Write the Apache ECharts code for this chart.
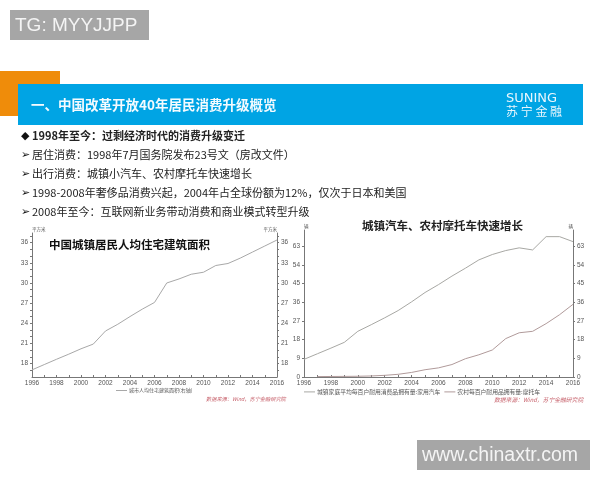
<!DOCTYPE html>
<html>
<head>
<meta charset="utf-8">
<script src="https://cdn.jsdelivr.net/npm/echarts@6/dist/echarts.min.js"></script>
<style>
html,body{margin:0;padding:0;background:#fff;}
#container{width:600px;height:480px;}
</style>
</head>
<body>
<div id="container"></div>
<script>
var years = ['1996','1997','1998','1999','2000','2001','2002','2003','2004','2005','2006','2007','2008','2009','2010','2011','2012','2013','2014','2015','2016'];

// left chart
var housingArea = [17.06,17.85,18.64,19.4,20.2,20.9,22.85,23.85,25,26.1,27.1,30,30.6,31.3,31.6,32.6,32.9,33.7,34.6,35.5,36.4];
var housingTicks = [18,21,24,27,30,33,36];
var housingTickMarks = [17,18,19,20,21,22,23,24,25,26,27,28,29,30,31,32,33,34,35,36,37];

// right chart
var urbanCars = [8.5,11.2,13.9,16.7,22,25.2,28.5,32,36.2,40.7,44.5,48.6,52.4,56.4,59,60.9,62.2,61.2,67.6,67.6,65.2];
var ruralMoto = [null,0.2,0.25,0.3,0.35,0.5,0.8,1.3,2.2,3.5,4.4,6,8.8,10.7,13,18.5,21.3,22,25.7,30,35];
var vehicleTicks = [0,9,18,27,36,45,54,63];

var housingName = '城市人均住宅建筑面积(右轴)';
var carName = '城镇家庭平均每百户耐用消费品拥有量:家用汽车';
var motoName = '农村每百户耐用品拥有量:摩托车';

var bullets = [
    '1998年至今：过剩经济时代的消费升级变迁',
    '居住消费：1998年7月国务院发布23号文（房改文件）',
    '出行消费：城镇小汽车、农村摩托车快速增长',
    '1998-2008年奢侈品消费兴起，2004年占全球份额为12%，仅次于日本和美国',
    '2008年至今：互联网新业务带动消费和商业模式转型升级'
];

var cjk = '"Noto Sans CJK SC", sans-serif';
var axisColor = '#777';

function xAxis(gridIndex){
    return {
        type: 'category',
        gridIndex: gridIndex,
        data: years,
        boundaryGap: false,
        axisLine: {lineStyle: {color: axisColor, width: 1}},
        axisTick: {show: true, length: 2, interval: 0, inside: true, lineStyle: {color: axisColor}},
        axisLabel: {interval: 1, fontSize: 6.5, color: '#555', margin: 3, fontFamily: 'Liberation Sans', showMaxLabel: true},
        splitLine: {show: false}
    };
}

function yAxis(gridIndex, position, min, max, ticks, marks, unit){
    return {
        type: 'value',
        gridIndex: gridIndex,
        position: position,
        min: min,
        max: max,
        name: unit,
        nameGap: 1,
        nameTextStyle: {fontSize: 4.5, color: '#555', fontFamily: cjk, align: position === 'left' ? 'left' : 'right'},
        axisLine: {show: true, lineStyle: {color: axisColor, width: 1}},
        axisTick: {show: true, length: 2, customValues: marks, lineStyle: {color: axisColor}},
        axisLabel: {customValues: ticks, fontSize: 6.5, color: '#555', margin: 4, fontFamily: 'Liberation Sans'},
        splitLine: {show: false}
    };
}

function textItem(x, y, text, font, color, extra){
    var style = {x: x, y: y, text: text, font: font, fill: color, textVerticalAlign: 'middle'};
    for (var k in extra) { style[k] = extra[k]; }
    return {type: 'text', z: 10, style: style};
}

function rectItem(x, y, w, h, color, z){
    return {type: 'rect', z: z, shape: {x: x, y: y, width: w, height: h}, style: {fill: color}};
}

var graphics = [
    rectItem(10, 10, 139, 30, '#a6a6a6', 1),
    textItem(15, 26, 'TG: MYYJJPP', '19px "Liberation Sans"', '#f4f4f4'),
    rectItem(0, 71, 60, 45, '#ef8c0a', 1),
    rectItem(18, 84, 565, 41, '#00a4e4', 2),
    textItem(31, 105, '一、中国改革开放40年居民消费升级概览', 'bold 13.5px ' + cjk, '#f4fbff'),
    textItem(506, 99, 'SUNING', '13px "DejaVu Sans"', '#e8f6fd'),
    textItem(506, 111, '苏 宁 金 融', '12px ' + cjk, '#e8f6fd'),
    rectItem(417, 440, 173, 30, '#a6a6a6', 1),
    textItem(422, 456, 'www.chinaxtr.com', '19.5px "Liberation Sans"', '#f4f4f4'),
    textItem(49, 245, '中国城镇居民人均住宅建筑面积', 'bold 11.5px ' + cjk, '#111'),
    textItem(362, 226, '城镇汽车、农村摩托车快速增长', 'bold 11.5px ' + cjk, '#222'),
    textItem(206, 399, '数据来源：Wind，苏宁金融研究院', 'italic 5.2px ' + cjk, '#c8646e'),
    textItem(494, 400, '数据来源：Wind，苏宁金融研究院', 'italic 5.8px ' + cjk, '#c8646e')
];

for (var i = 0; i < bullets.length; i++) {
    var lineY = 136 + i * 19;
    graphics.push(textItem(21, lineY, i === 0 ? '◆' : '➢', '11px "DejaVu Sans"', '#111'));
    graphics.push(textItem(32, lineY, bullets[i], (i === 0 ? 'bold ' : '') + '11px ' + cjk, '#222'));
}

var option = {
    animation: false,
    backgroundColor: '#fff',
    graphic: graphics,
    grid: [
        {left: 32, top: 233, width: 245, height: 144},
        {left: 304, top: 230, width: 269, height: 147}
    ],
    xAxis: [xAxis(0), xAxis(1)],
    yAxis: [
        yAxis(0, 'left', 16, 37.44, housingTicks, housingTickMarks, '平方米'),
        yAxis(0, 'right', 16, 37.44, housingTicks, housingTickMarks, '平方米'),
        yAxis(1, 'left', 0, 70.8, vehicleTicks, vehicleTicks, '辆'),
        yAxis(1, 'right', 0, 70.8, vehicleTicks, vehicleTicks, '辆')
    ],
    legend: [
        {
            data: [housingName],
            left: 116, top: 388,
            icon: 'rect', itemWidth: 11, itemHeight: 1, itemGap: 2, padding: 0,
            textStyle: {fontSize: 5, color: '#555', fontFamily: cjk, padding: [0, 0, 0, -3]}
        },
        {
            data: [carName, motoName],
            left: 304, top: 389,
            icon: 'rect', itemWidth: 11, itemHeight: 1, itemGap: 4, padding: 0,
            textStyle: {fontSize: 5.8, color: '#555', fontFamily: cjk, padding: [0, 0, 0, -3]}
        }
    ],
    series: [
        {
            name: housingName, type: 'line', xAxisIndex: 0, yAxisIndex: 0,
            data: housingArea, showSymbol: false,
            lineStyle: {color: '#a8a8a8', width: 1}, itemStyle: {color: '#a8a8a8'}
        },
        {
            name: carName, type: 'line', xAxisIndex: 1, yAxisIndex: 2,
            data: urbanCars, showSymbol: false,
            lineStyle: {color: '#a8a8a4', width: 1}, itemStyle: {color: '#a8a8a4'}
        },
        {
            name: motoName, type: 'line', xAxisIndex: 1, yAxisIndex: 2,
            data: ruralMoto, showSymbol: false,
            lineStyle: {color: '#b09a9a', width: 1}, itemStyle: {color: '#b09a9a'}
        }
    ]
};

var myChart = echarts.init(document.getElementById('container'));
myChart.setOption(option);
</script>
</body>
</html>
